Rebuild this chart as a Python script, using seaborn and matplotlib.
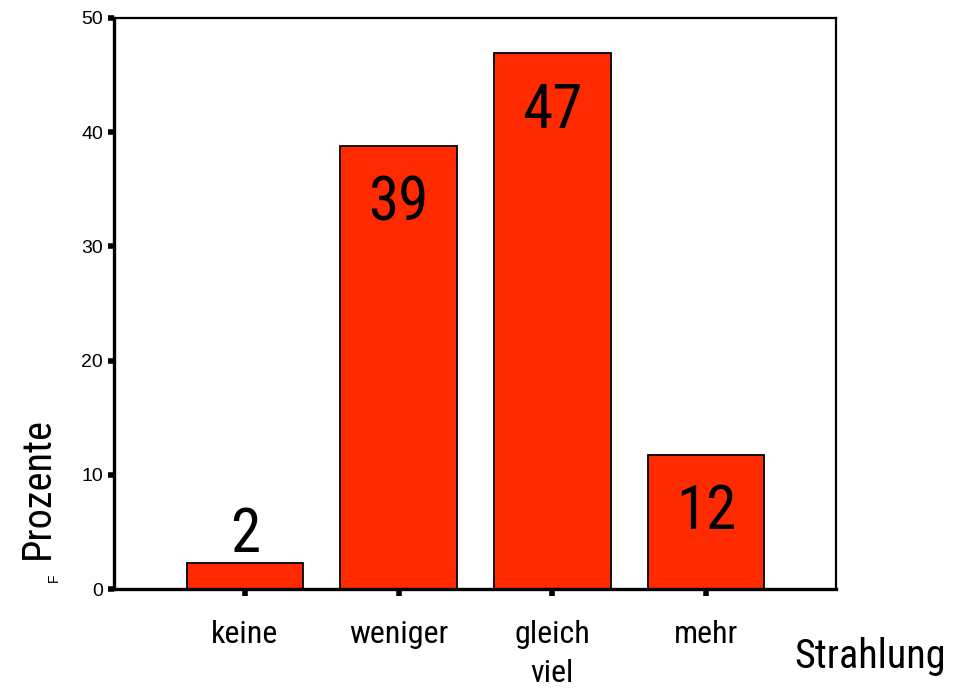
"""Bar chart: Strahlung (Prozente)."""

import matplotlib

matplotlib.use("Agg")
import matplotlib.pyplot as plt
import pandas as pd
import seaborn as sns
from matplotlib import font_manager

CATEGORIES = ["keine", "weniger", "gleich\nviel", "mehr"]
PERCENT = [2.3, 38.8, 46.9, 11.7]
BAR_LABELS = ["2", "39", "47", "12"]
Y_TICKS = [0, 10, 20, 30, 40, 50]

BAR_COLOR = "#ff2a00"


def narrow_font() -> dict:
    """Find a condensed sans font among the installed ones."""
    entries = font_manager.fontManager.ttflist
    names = {f.name for f in entries}
    for name in ["Liberation Sans Narrow", "Arial Narrow", "Roboto Condensed",
                 "Open Sans Condensed"]:
        if name in names:
            return {"family": name}
    for f in entries:
        if f.name == "DejaVu Sans" and f.stretch in ("condensed", 300):
            return {"family": "DejaVu Sans", "stretch": "condensed"}
    return {"family": "Liberation Sans"}


NARROW = narrow_font()

df = pd.DataFrame({"Strahlung": CATEGORIES, "Prozente": PERCENT})

sns.set_theme(style="ticks")
plt.rcParams["font.family"] = ["Liberation Sans", "DejaVu Sans"]
plt.rcParams["text.color"] = "black"

fig = plt.figure(figsize=(9.54, 6.92), dpi=100)
ax = fig.add_axes([114 / 954, 1 - 589 / 692, 722 / 954, 571 / 692])

sns.barplot(
    data=df,
    x="Strahlung",
    y="Prozente",
    color=BAR_COLOR,
    saturation=1,
    edgecolor="black",
    linewidth=1.3,
    width=0.76,
    ax=ax,
)

ax.set_xlim(-0.852, 3.846)
ax.set_ylim(0, 50)
ax.set_yticks(Y_TICKS)
ax.set_yticklabels([str(t) for t in Y_TICKS], fontsize=14, color="black")

# bar value labels: inside the top for tall bars, above for short ones
for i, (val, lab) in enumerate(zip(PERCENT, BAR_LABELS)):
    y = val - 5.0 if val > 8 else val + 2.4
    ax.text(i, y, lab, ha="center", va="center", fontsize=44,
            color="black", **NARROW)

for lbl in ax.get_xticklabels():
    lbl.set_family(NARROW["family"])
    if "stretch" in NARROW:
        lbl.set_stretch(NARROW["stretch"])
    lbl.set_fontsize(23)
    lbl.set_color("black")
    lbl.set_linespacing(1.45)

ax.tick_params(axis="x", direction="out", length=5, width=4, pad=17, color="black")
ax.tick_params(axis="y", direction="out", length=4, width=4, pad=4, color="black")

for side in ["left", "bottom"]:
    ax.spines[side].set_linewidth(2.4)
for side in ["top", "right"]:
    ax.spines[side].set_visible(True)
    ax.spines[side].set_linewidth(1.6)
for sp in ax.spines.values():
    sp.set_color("black")

ax.set_xlabel("")
ax.set_ylabel("")

fig.text(37 / 954, 1 - 488 / 692, "Prozente", rotation=90, ha="center",
         va="center", fontsize=29, color="black", **NARROW)
fig.text(54 / 954, 1 - 578 / 692, "F", rotation=90, ha="center",
         va="center", fontsize=10, color="black")
fig.text(870 / 954, 1 - 657 / 692, "Strahlung", ha="center",
         va="center", fontsize=29, color="black", **NARROW)

fig.savefig("out.png", dpi=100)
plt.close(fig)
